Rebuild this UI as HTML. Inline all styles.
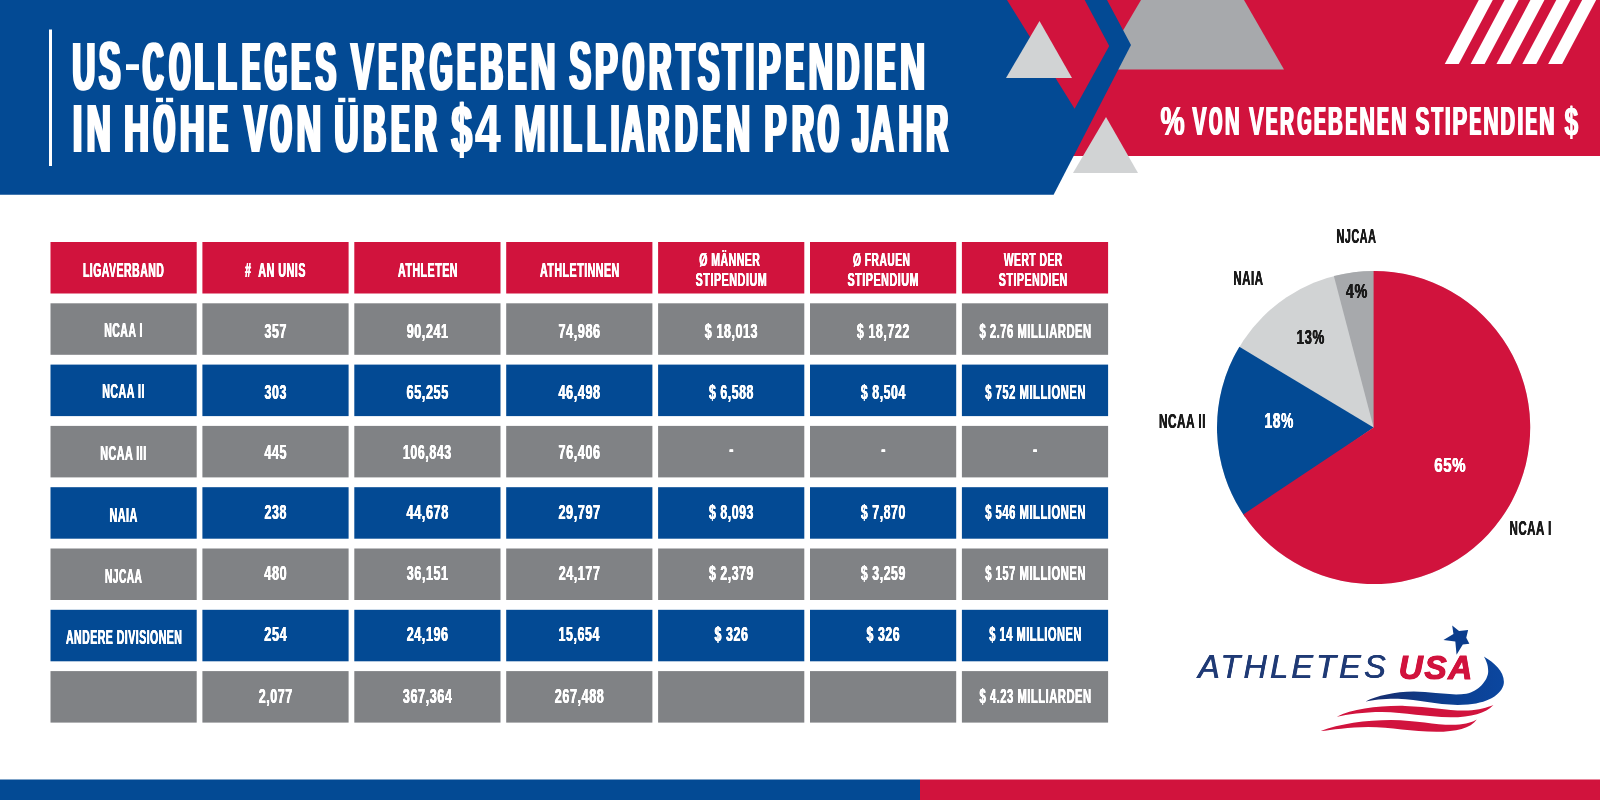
<!DOCTYPE html>
<html><head><meta charset="utf-8"><title>US-Colleges Sportstipendien</title>
<style>
html,body{margin:0;padding:0;background:#fff;}
body{width:1600px;height:800px;position:relative;overflow:hidden;font-family:"Liberation Sans",sans-serif;}
svg{position:absolute;left:0;top:0;}
#txt{position:absolute;left:0;top:0;width:1600px;height:800px;will-change:transform;}
.t{position:absolute;left:0;top:0;line-height:1;white-space:pre;transform-origin:0 0;font-weight:bold;font-family:"Liberation Sans",sans-serif;}
</style></head><body>
<svg width="1600" height="800" viewBox="0 0 1600 800">
<rect x="1000" y="0" width="600" height="156" fill="#d1133d"/>
<polygon points="1141,0 1244,0 1284,69.5 1100,69.5" fill="#a7a9ac"/>
<polygon points="0,0 1107,0 1131,45 1053.6,194.8 0,194.8" fill="#034a94"/>
<polygon points="1007,0 1084.7,0 1109.2,46 1074.6,108.8" fill="#d1133d"/>
<polygon points="1039.5,21 1072,78 1006,78" fill="#d1d3d4"/>
<polygon points="1106,117 1138,173 1073,173" fill="#d1d3d4"/>
<rect x="49" y="29.5" width="3" height="136.5" fill="#fff"/>
<polygon points="1444.75,64 1458.75,64 1492.75,0 1478.75,0" fill="#fff"/>
<polygon points="1470.6,64 1484.6,64 1518.6,0 1504.6,0" fill="#fff"/>
<polygon points="1496.45,64 1510.45,64 1544.45,0 1530.45,0" fill="#fff"/>
<polygon points="1522.3,64 1536.3,64 1570.3,0 1556.3,0" fill="#fff"/>
<polygon points="1548.15,64 1562.15,64 1596.15,0 1582.15,0" fill="#fff"/>
<rect x="0" y="779.5" width="920" height="21" fill="#034a94"/><rect x="920" y="779.5" width="680" height="21" fill="#d1133d"/>
<rect x="50.50" y="242.00" width="146.2" height="51.5" fill="#d1133d"/>
<rect x="202.40" y="242.00" width="146.2" height="51.5" fill="#d1133d"/>
<rect x="354.30" y="242.00" width="146.2" height="51.5" fill="#d1133d"/>
<rect x="506.20" y="242.00" width="146.2" height="51.5" fill="#d1133d"/>
<rect x="658.10" y="242.00" width="146.2" height="51.5" fill="#d1133d"/>
<rect x="810.00" y="242.00" width="146.2" height="51.5" fill="#d1133d"/>
<rect x="961.90" y="242.00" width="146.2" height="51.5" fill="#d1133d"/>
<rect x="50.50" y="303.30" width="146.2" height="51.5" fill="#808285"/>
<rect x="202.40" y="303.30" width="146.2" height="51.5" fill="#808285"/>
<rect x="354.30" y="303.30" width="146.2" height="51.5" fill="#808285"/>
<rect x="506.20" y="303.30" width="146.2" height="51.5" fill="#808285"/>
<rect x="658.10" y="303.30" width="146.2" height="51.5" fill="#808285"/>
<rect x="810.00" y="303.30" width="146.2" height="51.5" fill="#808285"/>
<rect x="961.90" y="303.30" width="146.2" height="51.5" fill="#808285"/>
<rect x="50.50" y="364.60" width="146.2" height="51.5" fill="#034a94"/>
<rect x="202.40" y="364.60" width="146.2" height="51.5" fill="#034a94"/>
<rect x="354.30" y="364.60" width="146.2" height="51.5" fill="#034a94"/>
<rect x="506.20" y="364.60" width="146.2" height="51.5" fill="#034a94"/>
<rect x="658.10" y="364.60" width="146.2" height="51.5" fill="#034a94"/>
<rect x="810.00" y="364.60" width="146.2" height="51.5" fill="#034a94"/>
<rect x="961.90" y="364.60" width="146.2" height="51.5" fill="#034a94"/>
<rect x="50.50" y="425.90" width="146.2" height="51.5" fill="#808285"/>
<rect x="202.40" y="425.90" width="146.2" height="51.5" fill="#808285"/>
<rect x="354.30" y="425.90" width="146.2" height="51.5" fill="#808285"/>
<rect x="506.20" y="425.90" width="146.2" height="51.5" fill="#808285"/>
<rect x="658.10" y="425.90" width="146.2" height="51.5" fill="#808285"/>
<rect x="810.00" y="425.90" width="146.2" height="51.5" fill="#808285"/>
<rect x="961.90" y="425.90" width="146.2" height="51.5" fill="#808285"/>
<rect x="50.50" y="487.20" width="146.2" height="51.5" fill="#034a94"/>
<rect x="202.40" y="487.20" width="146.2" height="51.5" fill="#034a94"/>
<rect x="354.30" y="487.20" width="146.2" height="51.5" fill="#034a94"/>
<rect x="506.20" y="487.20" width="146.2" height="51.5" fill="#034a94"/>
<rect x="658.10" y="487.20" width="146.2" height="51.5" fill="#034a94"/>
<rect x="810.00" y="487.20" width="146.2" height="51.5" fill="#034a94"/>
<rect x="961.90" y="487.20" width="146.2" height="51.5" fill="#034a94"/>
<rect x="50.50" y="548.50" width="146.2" height="51.5" fill="#808285"/>
<rect x="202.40" y="548.50" width="146.2" height="51.5" fill="#808285"/>
<rect x="354.30" y="548.50" width="146.2" height="51.5" fill="#808285"/>
<rect x="506.20" y="548.50" width="146.2" height="51.5" fill="#808285"/>
<rect x="658.10" y="548.50" width="146.2" height="51.5" fill="#808285"/>
<rect x="810.00" y="548.50" width="146.2" height="51.5" fill="#808285"/>
<rect x="961.90" y="548.50" width="146.2" height="51.5" fill="#808285"/>
<rect x="50.50" y="609.80" width="146.2" height="51.5" fill="#034a94"/>
<rect x="202.40" y="609.80" width="146.2" height="51.5" fill="#034a94"/>
<rect x="354.30" y="609.80" width="146.2" height="51.5" fill="#034a94"/>
<rect x="506.20" y="609.80" width="146.2" height="51.5" fill="#034a94"/>
<rect x="658.10" y="609.80" width="146.2" height="51.5" fill="#034a94"/>
<rect x="810.00" y="609.80" width="146.2" height="51.5" fill="#034a94"/>
<rect x="961.90" y="609.80" width="146.2" height="51.5" fill="#034a94"/>
<rect x="50.50" y="671.10" width="146.2" height="51.5" fill="#808285"/>
<rect x="202.40" y="671.10" width="146.2" height="51.5" fill="#808285"/>
<rect x="354.30" y="671.10" width="146.2" height="51.5" fill="#808285"/>
<rect x="506.20" y="671.10" width="146.2" height="51.5" fill="#808285"/>
<rect x="658.10" y="671.10" width="146.2" height="51.5" fill="#808285"/>
<rect x="810.00" y="671.10" width="146.2" height="51.5" fill="#808285"/>
<rect x="961.90" y="671.10" width="146.2" height="51.5" fill="#808285"/>
<circle cx="1373.6" cy="427.5" r="156.6" fill="#d1d3d4"/>
<path d="M1373.6,427.5 L1333.86,276.03 A156.6,156.6 0 0 1 1377.70,270.95 Z" fill="#a7a9ac"/>
<path d="M1373.6,427.5 L1245.32,517.32 A156.6,156.6 0 0 1 1239.37,346.85 Z" fill="#034a94"/>
<path d="M1373.6,427.5 L1373.60,270.90 A156.6,156.6 0 1 1 1243.32,514.39 Z" fill="#d1133d"/>
<defs><linearGradient id="sw" gradientUnits="userSpaceOnUse" x1="1365" y1="0" x2="1505" y2="0"><stop offset="0" stop-color="#182c6c"/><stop offset="0.6" stop-color="#0c3f90"/><stop offset="1" stop-color="#0b47a0"/></linearGradient></defs>
<path d="M 1483.8,656.4 C 1494.3,662.5 1503.9,671.3 1503.9,681.8 C 1503.9,692.3 1490.8,702.8 1468.1,704.5 C 1440.0,706.6 1422.5,699.6 1398.0,698.8 C 1384.0,698.6 1373.5,700.0 1365.6,701.4 C 1377.0,695.8 1394.5,691.9 1413.8,691.6 C 1433.0,691.6 1450.5,696.1 1466.3,693.7 C 1478.6,691.6 1488.2,680.0 1488.2,671.3 C 1488.2,664.3 1485.9,659.9 1483.8,656.4 Z" fill="url(#sw)"/>
<path d="M 1336.8,716.8 C 1352.5,708.9 1378.8,705.4 1405.0,705.9 C 1431.3,706.6 1448.8,711.2 1468.1,710.5 C 1478.6,709.8 1487.3,707.3 1493.4,704.9 C 1485.6,713.3 1471.6,717.1 1450.5,717.3 C 1426.0,717.1 1405.0,712.4 1382.3,712.1 C 1363.0,712.1 1347.3,714.7 1336.8,716.8 Z" fill="#d1133d"/>
<path d="M 1320.7,731.1 C 1338.5,723.8 1366.5,719.9 1391.0,719.9 C 1419.0,720.3 1436.5,725.5 1455.8,724.8 C 1466.3,724.1 1473.3,721.7 1476.8,719.4 C 1470.7,728.2 1455.8,731.7 1436.5,731.7 C 1412.0,731.7 1391.0,726.9 1368.3,726.9 C 1349.0,726.9 1331.5,729.9 1320.7,731.1 Z" fill="#d1133d"/>
<polygon points="1452.19,625.62 1459.06,630.94 1468.12,629.88 1466.25,637.81 1469.38,643.75 1462.81,644.38 1456.56,654.69 1455.31,641.56 1443.44,640 1453.44,634.06" fill="#0b3c8c"/>
<rect x="155.95" y="97.75" width="7.1" height="4.4" fill="#fff"/><rect x="166.05" y="97.75" width="7.1" height="4.4" fill="#fff"/>
<rect x="338.25" y="97.75" width="7.1" height="4.4" fill="#fff"/><rect x="348.35" y="97.75" width="7.1" height="4.4" fill="#fff"/>
</svg>
<div id="txt">
<span class="w"><span class="t" style="font-size:68.12px;transform:translate(72.50px,31.94px) scale(0.4590,1);color:#fff;text-shadow:3.46px 0 0 #fff,-3.46px 0 0 #fff;">U</span>
<span class="t" style="font-size:68.12px;transform:translate(99.08px,31.34px) scale(0.4668,1);color:#fff;text-shadow:3.31px 0 0 #fff,-3.31px 0 0 #fff;">S</span>
<span class="t" style="font-size:68.12px;transform:translate(123.90px,39.26px) scale(0.7500,0.7);color:#fff;">-</span>
<span class="t" style="font-size:68.12px;transform:translate(143.00px,31.94px) scale(0.4120,1);color:#fff;text-shadow:4.42px 0 0 #fff,-4.42px 0 0 #fff;">C</span>
<span class="t" style="font-size:68.12px;transform:translate(169.57px,31.94px) scale(0.3880,1);color:#fff;text-shadow:5.01px 0 0 #fff,-5.01px 0 0 #fff;">O</span>
<span class="t" style="font-size:68.12px;transform:translate(194.77px,31.94px) scale(0.4456,1);color:#fff;text-shadow:3.71px 0 0 #fff,-3.71px 0 0 #fff;">L</span>
<span class="t" style="font-size:68.12px;transform:translate(217.77px,31.94px) scale(0.4456,1);color:#fff;text-shadow:3.71px 0 0 #fff,-3.71px 0 0 #fff;">L</span>
<span class="t" style="font-size:68.12px;transform:translate(242.49px,31.94px) scale(0.3769,1);color:#fff;text-shadow:5.31px 0 0 #fff,-5.31px 0 0 #fff;">E</span>
<span class="t" style="font-size:68.12px;transform:translate(265.00px,31.94px) scale(0.4117,1);color:#fff;text-shadow:4.43px 0 0 #fff,-4.43px 0 0 #fff;">G</span>
<span class="t" style="font-size:68.12px;transform:translate(291.55px,31.94px) scale(0.4150,1);color:#fff;text-shadow:4.36px 0 0 #fff,-4.36px 0 0 #fff;">E</span>
<span class="t" style="font-size:68.12px;transform:translate(315.59px,31.94px) scale(0.4480,1);color:#fff;text-shadow:3.66px 0 0 #fff,-3.66px 0 0 #fff;">S</span></span> 
<span class="w"><span class="t" style="font-size:68.12px;transform:translate(350.77px,31.94px) scale(0.5012,1);color:#fff;text-shadow:2.74px 0 0 #fff,-2.74px 0 0 #fff;">V</span>
<span class="t" style="font-size:68.12px;transform:translate(378.86px,31.94px) scale(0.3804,1);color:#fff;text-shadow:5.21px 0 0 #fff,-5.21px 0 0 #fff;">E</span>
<span class="t" style="font-size:68.12px;transform:translate(401.64px,31.94px) scale(0.4599,1);color:#fff;text-shadow:3.44px 0 0 #fff,-3.44px 0 0 #fff;">R</span>
<span class="t" style="font-size:68.12px;transform:translate(430.02px,31.94px) scale(0.4226,1);color:#fff;text-shadow:4.19px 0 0 #fff,-4.19px 0 0 #fff;">G</span>
<span class="t" style="font-size:68.12px;transform:translate(457.69px,31.94px) scale(0.3769,1);color:#fff;text-shadow:5.31px 0 0 #fff,-5.31px 0 0 #fff;">E</span>
<span class="t" style="font-size:68.12px;transform:translate(480.35px,31.94px) scale(0.4587,1);color:#fff;text-shadow:3.46px 0 0 #fff,-3.46px 0 0 #fff;">B</span>
<span class="t" style="font-size:68.12px;transform:translate(508.17px,31.94px) scale(0.3908,1);color:#fff;text-shadow:4.94px 0 0 #fff,-4.94px 0 0 #fff;">E</span>
<span class="t" style="font-size:68.12px;transform:translate(530.57px,31.94px) scale(0.5062,1);color:#fff;text-shadow:2.66px 0 0 #fff,-2.66px 0 0 #fff;">N</span></span> 
<span class="w"><span class="t" style="font-size:68.12px;transform:translate(569.44px,31.34px) scale(0.4731,1);color:#fff;text-shadow:3.20px 0 0 #fff,-3.20px 0 0 #fff;">S</span>
<span class="t" style="font-size:68.12px;transform:translate(594.94px,31.94px) scale(0.5047,1);color:#fff;text-shadow:2.69px 0 0 #fff,-2.69px 0 0 #fff;">P</span>
<span class="t" style="font-size:68.12px;transform:translate(623.08px,31.94px) scale(0.3867,1);color:#fff;text-shadow:5.04px 0 0 #fff,-5.04px 0 0 #fff;">O</span>
<span class="t" style="font-size:68.12px;transform:translate(649.22px,31.94px) scale(0.4511,1);color:#fff;text-shadow:3.60px 0 0 #fff,-3.60px 0 0 #fff;">R</span>
<span class="t" style="font-size:68.12px;transform:translate(676.47px,31.94px) scale(0.4318,1);color:#fff;text-shadow:3.99px 0 0 #fff,-3.99px 0 0 #fff;">T</span>
<span class="t" style="font-size:68.12px;transform:translate(697.95px,31.94px) scale(0.4715,1);color:#fff;text-shadow:3.23px 0 0 #fff,-3.23px 0 0 #fff;">S</span>
<span class="t" style="font-size:68.12px;transform:translate(722.59px,31.94px) scale(0.4383,1);color:#fff;text-shadow:3.86px 0 0 #fff,-3.86px 0 0 #fff;">T</span>
<span class="t" style="font-size:68.12px;transform:translate(744.35px,31.94px) scale(0.6000,1);color:#fff;text-shadow:1.25px 0 0 #fff,-1.25px 0 0 #fff;">I</span>
<span class="t" style="font-size:68.12px;transform:translate(758.21px,31.94px) scale(0.4913,1);color:#fff;text-shadow:2.90px 0 0 #fff,-2.90px 0 0 #fff;">P</span>
<span class="t" style="font-size:68.12px;transform:translate(786.35px,31.94px) scale(0.3700,1);color:#fff;text-shadow:5.50px 0 0 #fff,-5.50px 0 0 #fff;">E</span>
<span class="t" style="font-size:68.12px;transform:translate(808.63px,31.94px) scale(0.4949,1);color:#fff;text-shadow:2.84px 0 0 #fff,-2.84px 0 0 #fff;">N</span>
<span class="t" style="font-size:68.12px;transform:translate(836.55px,31.94px) scale(0.4587,1);color:#fff;text-shadow:3.46px 0 0 #fff,-3.46px 0 0 #fff;">D</span>
<span class="t" style="font-size:68.12px;transform:translate(862.62px,31.94px) scale(0.6000,1);color:#fff;text-shadow:1.04px 0 0 #fff,-1.04px 0 0 #fff;">I</span>
<span class="t" style="font-size:68.12px;transform:translate(877.30px,31.94px) scale(0.3873,1);color:#fff;text-shadow:5.03px 0 0 #fff,-5.03px 0 0 #fff;">E</span>
<span class="t" style="font-size:68.12px;transform:translate(900.21px,31.94px) scale(0.5078,1);color:#fff;text-shadow:2.64px 0 0 #fff,-2.64px 0 0 #fff;">N</span></span> 
<span class="w"><span class="t" style="font-size:68.12px;transform:translate(71.95px,94.44px) scale(0.6000,1);color:#fff;text-shadow:1.42px 0 0 #fff,-1.42px 0 0 #fff;">I</span>
<span class="t" style="font-size:68.12px;transform:translate(86.66px,94.44px) scale(0.4916,1);color:#fff;text-shadow:2.89px 0 0 #fff,-2.89px 0 0 #fff;">N</span></span> 
<span class="w"><span class="t" style="font-size:68.12px;transform:translate(124.04px,94.44px) scale(0.5046,1);color:#fff;text-shadow:2.69px 0 0 #fff,-2.69px 0 0 #fff;">H</span>
<span class="t" style="font-size:68.12px;transform:translate(153.93px,94.44px) scale(0.3931,1);color:#fff;clip-path:inset(9.5px -20px -20px -20px);text-shadow:4.88px 0 0 #fff,-4.88px 0 0 #fff;">Ö</span>
<span class="t" style="font-size:68.12px;transform:translate(180.00px,94.44px) scale(0.4981,1);color:#fff;text-shadow:2.79px 0 0 #fff,-2.79px 0 0 #fff;">H</span>
<span class="t" style="font-size:68.12px;transform:translate(209.47px,94.44px) scale(0.3908,1);color:#fff;text-shadow:4.94px 0 0 #fff,-4.94px 0 0 #fff;">E</span></span> 
<span class="w"><span class="t" style="font-size:68.12px;transform:translate(244.17px,94.44px) scale(0.5012,1);color:#fff;text-shadow:2.74px 0 0 #fff,-2.74px 0 0 #fff;">V</span>
<span class="t" style="font-size:68.12px;transform:translate(270.77px,94.44px) scale(0.3880,1);color:#fff;text-shadow:5.01px 0 0 #fff,-5.01px 0 0 #fff;">O</span>
<span class="t" style="font-size:68.12px;transform:translate(296.60px,94.44px) scale(0.4981,1);color:#fff;text-shadow:2.79px 0 0 #fff,-2.79px 0 0 #fff;">N</span></span> 
<span class="w"><span class="t" style="font-size:68.12px;transform:translate(334.51px,94.44px) scale(0.4856,1);color:#fff;clip-path:inset(9.5px -20px -20px -20px);text-shadow:2.99px 0 0 #fff,-2.99px 0 0 #fff;">Ü</span>
<span class="t" style="font-size:68.12px;transform:translate(363.20px,94.44px) scale(0.4648,1);color:#fff;text-shadow:3.35px 0 0 #fff,-3.35px 0 0 #fff;">B</span>
<span class="t" style="font-size:68.12px;transform:translate(391.73px,94.44px) scale(0.3787,1);color:#fff;text-shadow:5.26px 0 0 #fff,-5.26px 0 0 #fff;">E</span>
<span class="t" style="font-size:68.12px;transform:translate(414.54px,94.44px) scale(0.4496,1);color:#fff;text-shadow:3.63px 0 0 #fff,-3.63px 0 0 #fff;">R</span></span> 
<span class="w"><span class="t" style="font-size:68.12px;transform:translate(451.45px,95.04px) scale(0.5461,1);color:#fff;text-shadow:2.10px 0 0 #fff,-2.10px 0 0 #fff;">$</span>
<span class="t" style="font-size:68.12px;transform:translate(475.14px,94.44px) scale(0.6631,1);color:#fff;text-shadow:0.84px 0 0 #fff,-0.84px 0 0 #fff;">4</span></span> 
<span class="w"><span class="t" style="font-size:68.12px;transform:translate(513.74px,94.44px) scale(0.5704,1);color:#fff;text-shadow:1.80px 0 0 #fff,-1.80px 0 0 #fff;">M</span>
<span class="t" style="font-size:68.12px;transform:translate(548.53px,94.44px) scale(0.6000,1);color:#fff;text-shadow:1.13px 0 0 #fff,-1.13px 0 0 #fff;">I</span>
<span class="t" style="font-size:68.12px;transform:translate(563.36px,94.44px) scale(0.4360,1);color:#fff;text-shadow:3.90px 0 0 #fff,-3.90px 0 0 #fff;">L</span>
<span class="t" style="font-size:68.12px;transform:translate(587.19px,94.44px) scale(0.4321,1);color:#fff;text-shadow:3.98px 0 0 #fff,-3.98px 0 0 #fff;">L</span>
<span class="t" style="font-size:68.12px;transform:translate(609.45px,94.44px) scale(0.6000,1);color:#fff;text-shadow:1.42px 0 0 #fff,-1.42px 0 0 #fff;">I</span>
<span class="t" style="font-size:68.12px;transform:translate(621.78px,94.44px) scale(0.4496,1);color:#fff;text-shadow:3.63px 0 0 #fff,-3.63px 0 0 #fff;">A</span>
<span class="t" style="font-size:68.12px;transform:translate(647.78px,94.44px) scale(0.4334,1);color:#fff;text-shadow:3.96px 0 0 #fff,-3.96px 0 0 #fff;">R</span>
<span class="t" style="font-size:68.12px;transform:translate(674.70px,94.44px) scale(0.4648,1);color:#fff;text-shadow:3.35px 0 0 #fff,-3.35px 0 0 #fff;">D</span>
<span class="t" style="font-size:68.12px;transform:translate(703.23px,94.44px) scale(0.3787,1);color:#fff;text-shadow:5.26px 0 0 #fff,-5.26px 0 0 #fff;">E</span>
<span class="t" style="font-size:68.12px;transform:translate(726.08px,94.44px) scale(0.4884,1);color:#fff;text-shadow:2.94px 0 0 #fff,-2.94px 0 0 #fff;">N</span></span> 
<span class="w"><span class="t" style="font-size:68.12px;transform:translate(764.55px,94.44px) scale(0.4813,1);color:#fff;text-shadow:3.06px 0 0 #fff,-3.06px 0 0 #fff;">P</span>
<span class="t" style="font-size:68.12px;transform:translate(792.23px,94.44px) scale(0.4393,1);color:#fff;text-shadow:3.84px 0 0 #fff,-3.84px 0 0 #fff;">R</span>
<span class="t" style="font-size:68.12px;transform:translate(818.22px,94.44px) scale(0.3803,1);color:#fff;text-shadow:5.21px 0 0 #fff,-5.21px 0 0 #fff;">O</span></span> 
<span class="w"><span class="t" style="font-size:68.12px;transform:translate(852.84px,94.44px) scale(0.4232,1);color:#fff;text-shadow:4.17px 0 0 #fff,-4.17px 0 0 #fff;">J</span>
<span class="t" style="font-size:68.12px;transform:translate(870.54px,94.44px) scale(0.4740,1);color:#fff;text-shadow:3.19px 0 0 #fff,-3.19px 0 0 #fff;">A</span>
<span class="t" style="font-size:68.12px;transform:translate(898.60px,94.44px) scale(0.4754,1);color:#fff;text-shadow:3.16px 0 0 #fff,-3.16px 0 0 #fff;">H</span>
<span class="t" style="font-size:68.12px;transform:translate(926.43px,94.44px) scale(0.4393,1);color:#fff;text-shadow:3.84px 0 0 #fff,-3.84px 0 0 #fff;">R</span></span> 
<span class="w"><span class="t" style="font-size:40.43px;transform:translate(1160.53px,100.98px) scale(0.6735,1);color:#fff;text-shadow:0.74px 0 0 #fff,-0.74px 0 0 #fff;">%</span></span> 
<span class="w"><span class="t" style="font-size:40.43px;transform:translate(1192.38px,100.98px) scale(0.5250,1);color:#fff;text-shadow:1.20px 0 0 #fff,-1.20px 0 0 #fff;">V</span>
<span class="t" style="font-size:40.43px;transform:translate(1209.09px,100.98px) scale(0.4183,1);color:#fff;text-shadow:2.27px 0 0 #fff,-2.27px 0 0 #fff;">O</span>
<span class="t" style="font-size:40.43px;transform:translate(1224.84px,100.98px) scale(0.5063,1);color:#fff;text-shadow:1.35px 0 0 #fff,-1.35px 0 0 #fff;">N</span></span> 
<span class="w"><span class="t" style="font-size:40.43px;transform:translate(1248.95px,100.98px) scale(0.5510,1);color:#fff;text-shadow:1.00px 0 0 #fff,-1.00px 0 0 #fff;">V</span>
<span class="t" style="font-size:40.43px;transform:translate(1266.02px,100.98px) scale(0.4218,1);color:#fff;text-shadow:2.22px 0 0 #fff,-2.22px 0 0 #fff;">E</span>
<span class="t" style="font-size:40.43px;transform:translate(1280.01px,100.98px) scale(0.4817,1);color:#fff;text-shadow:1.57px 0 0 #fff,-1.57px 0 0 #fff;">R</span>
<span class="t" style="font-size:40.43px;transform:translate(1297.27px,100.98px) scale(0.4599,1);color:#fff;text-shadow:1.79px 0 0 #fff,-1.79px 0 0 #fff;">G</span>
<span class="t" style="font-size:40.43px;transform:translate(1314.20px,100.98px) scale(0.4218,1);color:#fff;text-shadow:2.22px 0 0 #fff,-2.22px 0 0 #fff;">E</span>
<span class="t" style="font-size:40.43px;transform:translate(1328.06px,100.98px) scale(0.5058,1);color:#fff;text-shadow:1.36px 0 0 #fff,-1.36px 0 0 #fff;">B</span>
<span class="t" style="font-size:40.43px;transform:translate(1345.68px,100.98px) scale(0.4218,1);color:#fff;text-shadow:2.22px 0 0 #fff,-2.22px 0 0 #fff;">E</span>
<span class="t" style="font-size:40.43px;transform:translate(1359.41px,100.98px) scale(0.5324,1);color:#fff;text-shadow:1.14px 0 0 #fff,-1.14px 0 0 #fff;">N</span>
<span class="t" style="font-size:40.43px;transform:translate(1377.28px,100.98px) scale(0.4218,1);color:#fff;text-shadow:2.22px 0 0 #fff,-2.22px 0 0 #fff;">E</span>
<span class="t" style="font-size:40.43px;transform:translate(1391.02px,100.98px) scale(0.5324,1);color:#fff;text-shadow:1.14px 0 0 #fff,-1.14px 0 0 #fff;">N</span></span> 
<span class="w"><span class="t" style="font-size:40.43px;transform:translate(1415.31px,100.98px) scale(0.5227,1);color:#fff;text-shadow:1.22px 0 0 #fff,-1.22px 0 0 #fff;">S</span>
<span class="t" style="font-size:40.43px;transform:translate(1431.46px,100.98px) scale(0.4672,1);color:#fff;text-shadow:1.72px 0 0 #fff,-1.72px 0 0 #fff;">T</span>
<span class="t" style="font-size:40.43px;transform:translate(1444.39px,100.98px) scale(0.6000,1);color:#fff;text-shadow:0.70px 0 0 #fff,-0.70px 0 0 #fff;">I</span>
<span class="t" style="font-size:40.43px;transform:translate(1452.42px,100.98px) scale(0.5517,1);color:#fff;text-shadow:1.00px 0 0 #fff,-1.00px 0 0 #fff;">P</span>
<span class="t" style="font-size:40.43px;transform:translate(1469.71px,100.98px) scale(0.4134,1);color:#fff;text-shadow:2.33px 0 0 #fff,-2.33px 0 0 #fff;">E</span>
<span class="t" style="font-size:40.43px;transform:translate(1483.27px,100.98px) scale(0.5227,1);color:#fff;text-shadow:1.22px 0 0 #fff,-1.22px 0 0 #fff;">N</span>
<span class="t" style="font-size:40.43px;transform:translate(1500.49px,100.98px) scale(0.4966,1);color:#fff;text-shadow:1.44px 0 0 #fff,-1.44px 0 0 #fff;">D</span>
<span class="t" style="font-size:40.43px;transform:translate(1516.98px,100.98px) scale(0.6000,1);color:#fff;text-shadow:0.70px 0 0 #fff,-0.70px 0 0 #fff;">I</span>
<span class="t" style="font-size:40.43px;transform:translate(1525.69px,100.98px) scale(0.4134,1);color:#fff;text-shadow:2.33px 0 0 #fff,-2.33px 0 0 #fff;">E</span>
<span class="t" style="font-size:40.43px;transform:translate(1539.25px,100.98px) scale(0.5227,1);color:#fff;text-shadow:1.22px 0 0 #fff,-1.22px 0 0 #fff;">N</span></span> 
<span class="w"><span class="t" style="font-size:40.43px;transform:translate(1564.60px,101.58px) scale(0.6091,1);color:#fff;text-shadow:0.82px 0 0 #fff,-0.82px 0 0 #fff;">$</span></span> 
<span class="t" style="font-size:19.71px;transform:translate(82.91px,260.85px) scale(0.5329,1);color:#fff;letter-spacing:0.9px;text-shadow:0.41px 0 0 #fff,-0.41px 0 0 #fff;">LIGAVERBAND</span>
<span class="t" style="font-size:19.71px;transform:translate(245.09px,260.85px) scale(0.5488,1);color:#fff;letter-spacing:0.9px;text-shadow:0.40px 0 0 #fff,-0.40px 0 0 #fff;">#  AN UNIS</span>
<span class="t" style="font-size:19.71px;transform:translate(398.02px,260.85px) scale(0.5410,1);color:#fff;letter-spacing:0.9px;text-shadow:0.41px 0 0 #fff,-0.41px 0 0 #fff;">ATHLETEN</span>
<span class="t" style="font-size:19.71px;transform:translate(539.97px,260.85px) scale(0.5417,1);color:#fff;letter-spacing:0.9px;text-shadow:0.41px 0 0 #fff,-0.41px 0 0 #fff;">ATHLETINNEN</span>
<span class="t" style="font-size:19.13px;transform:translate(699.22px,250.04px) scale(0.5497,1);color:#fff;letter-spacing:0.9px;text-shadow:0.40px 0 0 #fff,-0.40px 0 0 #fff;">Ø MÄNNER</span>
<span class="t" style="font-size:19.13px;transform:translate(695.62px,269.74px) scale(0.5643,1);color:#fff;letter-spacing:0.9px;text-shadow:0.39px 0 0 #fff,-0.39px 0 0 #fff;">STIPENDIUM</span>
<span class="t" style="font-size:19.13px;transform:translate(853.07px,250.04px) scale(0.5362,1);color:#fff;letter-spacing:0.9px;text-shadow:0.41px 0 0 #fff,-0.41px 0 0 #fff;">Ø FRAUEN</span>
<span class="t" style="font-size:19.13px;transform:translate(847.42px,269.74px) scale(0.5643,1);color:#fff;letter-spacing:0.9px;text-shadow:0.39px 0 0 #fff,-0.39px 0 0 #fff;">STIPENDIUM</span>
<span class="t" style="font-size:19.13px;transform:translate(1003.87px,250.04px) scale(0.5392,1);color:#fff;letter-spacing:0.9px;text-shadow:0.41px 0 0 #fff,-0.41px 0 0 #fff;">WERT DER</span>
<span class="t" style="font-size:19.13px;transform:translate(998.82px,269.74px) scale(0.5572,1);color:#fff;letter-spacing:0.9px;text-shadow:0.39px 0 0 #fff,-0.39px 0 0 #fff;">STIPENDIEN</span>
<span class="t" style="font-size:19.86px;transform:translate(104.19px,320.87px) scale(0.5290,1);color:#fff;letter-spacing:0.9px;text-shadow:0.42px 0 0 #fff,-0.42px 0 0 #fff;">NCAA I</span>
<span class="t" style="font-size:19.86px;transform:translate(102.18px,382.07px) scale(0.5367,1);color:#fff;letter-spacing:0.9px;text-shadow:0.41px 0 0 #fff,-0.41px 0 0 #fff;">NCAA II</span>
<span class="t" style="font-size:19.86px;transform:translate(100.33px,443.97px) scale(0.5398,1);color:#fff;letter-spacing:0.9px;text-shadow:0.41px 0 0 #fff,-0.41px 0 0 #fff;">NCAA III</span>
<span class="t" style="font-size:19.86px;transform:translate(109.48px,505.77px) scale(0.5443,1);color:#fff;letter-spacing:0.9px;text-shadow:0.40px 0 0 #fff,-0.40px 0 0 #fff;">NAIA</span>
<span class="t" style="font-size:19.86px;transform:translate(105.01px,567.07px) scale(0.5117,1);color:#fff;letter-spacing:0.9px;text-shadow:0.43px 0 0 #fff,-0.43px 0 0 #fff;">NJCAA</span>
<span class="t" style="font-size:19.86px;transform:translate(65.97px,627.97px) scale(0.5307,1);color:#fff;letter-spacing:0.9px;text-shadow:0.41px 0 0 #fff,-0.41px 0 0 #fff;">ANDERE DIVISIONEN</span>
<span class="t" style="font-size:19.71px;transform:translate(264.57px,321.94px) scale(0.6300,1);color:#fff;letter-spacing:0.9px;text-shadow:0.35px 0 0 #fff,-0.35px 0 0 #fff;">357</span>
<span class="t" style="font-size:19.71px;transform:translate(264.57px,382.94px) scale(0.6300,1);color:#fff;letter-spacing:0.9px;text-shadow:0.35px 0 0 #fff,-0.35px 0 0 #fff;">303</span>
<span class="t" style="font-size:19.71px;transform:translate(264.42px,442.75px) scale(0.6386,1);color:#fff;letter-spacing:0.9px;text-shadow:0.34px 0 0 #fff,-0.34px 0 0 #fff;">445</span>
<span class="t" style="font-size:19.71px;transform:translate(264.57px,502.54px) scale(0.6300,1);color:#fff;letter-spacing:0.9px;text-shadow:0.35px 0 0 #fff,-0.35px 0 0 #fff;">238</span>
<span class="t" style="font-size:19.71px;transform:translate(264.27px,563.75px) scale(0.6473,1);color:#fff;letter-spacing:0.9px;text-shadow:0.34px 0 0 #fff,-0.34px 0 0 #fff;">480</span>
<span class="t" style="font-size:19.71px;transform:translate(264.27px,624.95px) scale(0.6473,1);color:#fff;letter-spacing:0.9px;text-shadow:0.34px 0 0 #fff,-0.34px 0 0 #fff;">254</span>
<span class="t" style="font-size:19.71px;transform:translate(258.77px,686.54px) scale(0.6323,1);color:#fff;letter-spacing:0.9px;text-shadow:0.35px 0 0 #fff,-0.35px 0 0 #fff;">2,077</span>
<span class="t" style="font-size:19.71px;transform:translate(406.67px,321.94px) scale(0.6401,1);color:#fff;letter-spacing:0.9px;text-shadow:0.34px 0 0 #fff,-0.34px 0 0 #fff;">90,241</span>
<span class="t" style="font-size:19.71px;transform:translate(406.52px,382.94px) scale(0.6448,1);color:#fff;letter-spacing:0.9px;text-shadow:0.34px 0 0 #fff,-0.34px 0 0 #fff;">65,255</span>
<span class="t" style="font-size:19.71px;transform:translate(402.89px,442.75px) scale(0.6316,1);color:#fff;letter-spacing:0.9px;text-shadow:0.35px 0 0 #fff,-0.35px 0 0 #fff;">106,843</span>
<span class="t" style="font-size:19.71px;transform:translate(406.52px,502.54px) scale(0.6448,1);color:#fff;letter-spacing:0.9px;text-shadow:0.34px 0 0 #fff,-0.34px 0 0 #fff;">44,678</span>
<span class="t" style="font-size:19.71px;transform:translate(406.82px,563.75px) scale(0.6355,1);color:#fff;letter-spacing:0.9px;text-shadow:0.35px 0 0 #fff,-0.35px 0 0 #fff;">36,151</span>
<span class="t" style="font-size:19.71px;transform:translate(406.67px,624.95px) scale(0.6401,1);color:#fff;letter-spacing:0.9px;text-shadow:0.34px 0 0 #fff,-0.34px 0 0 #fff;">24,196</span>
<span class="t" style="font-size:19.71px;transform:translate(402.87px,686.54px) scale(0.6403,1);color:#fff;letter-spacing:0.9px;text-shadow:0.34px 0 0 #fff,-0.34px 0 0 #fff;">367,364</span>
<span class="t" style="font-size:19.71px;transform:translate(558.42px,321.94px) scale(0.6448,1);color:#fff;letter-spacing:0.9px;text-shadow:0.34px 0 0 #fff,-0.34px 0 0 #fff;">74,986</span>
<span class="t" style="font-size:19.71px;transform:translate(558.42px,382.94px) scale(0.6448,1);color:#fff;letter-spacing:0.9px;text-shadow:0.34px 0 0 #fff,-0.34px 0 0 #fff;">46,498</span>
<span class="t" style="font-size:19.71px;transform:translate(558.57px,442.75px) scale(0.6401,1);color:#fff;letter-spacing:0.9px;text-shadow:0.34px 0 0 #fff,-0.34px 0 0 #fff;">76,406</span>
<span class="t" style="font-size:19.71px;transform:translate(558.42px,502.54px) scale(0.6448,1);color:#fff;letter-spacing:0.9px;text-shadow:0.34px 0 0 #fff,-0.34px 0 0 #fff;">29,797</span>
<span class="t" style="font-size:19.71px;transform:translate(558.72px,563.75px) scale(0.6355,1);color:#fff;letter-spacing:0.9px;text-shadow:0.35px 0 0 #fff,-0.35px 0 0 #fff;">24,177</span>
<span class="t" style="font-size:19.71px;transform:translate(558.59px,624.95px) scale(0.6298,1);color:#fff;letter-spacing:0.9px;text-shadow:0.35px 0 0 #fff,-0.35px 0 0 #fff;">15,654</span>
<span class="t" style="font-size:19.71px;transform:translate(554.77px,686.54px) scale(0.6403,1);color:#fff;letter-spacing:0.9px;text-shadow:0.34px 0 0 #fff,-0.34px 0 0 #fff;">267,488</span>
<span class="t" style="font-size:19.71px;transform:translate(704.82px,321.94px) scale(0.6358,1);color:#fff;letter-spacing:0.9px;text-shadow:0.35px 0 0 #fff,-0.35px 0 0 #fff;">$ 18,013</span>
<span class="t" style="font-size:19.71px;transform:translate(708.97px,382.94px) scale(0.6250,1);color:#fff;letter-spacing:0.9px;text-shadow:0.35px 0 0 #fff,-0.35px 0 0 #fff;">$ 6,588</span>
<span class="t" style="font-size:19.71px;transform:translate(729.27px,439.75px) scale(0.6433,1);color:#fff;letter-spacing:0.9px;text-shadow:0.34px 0 0 #fff,-0.34px 0 0 #fff;">-</span>
<span class="t" style="font-size:19.71px;transform:translate(708.97px,502.54px) scale(0.6250,1);color:#fff;letter-spacing:0.9px;text-shadow:0.35px 0 0 #fff,-0.35px 0 0 #fff;">$ 8,093</span>
<span class="t" style="font-size:19.71px;transform:translate(708.97px,563.75px) scale(0.6250,1);color:#fff;letter-spacing:0.9px;text-shadow:0.35px 0 0 #fff,-0.35px 0 0 #fff;">$ 2,379</span>
<span class="t" style="font-size:19.71px;transform:translate(714.47px,624.95px) scale(0.6323,1);color:#fff;letter-spacing:0.9px;text-shadow:0.35px 0 0 #fff,-0.35px 0 0 #fff;">$ 326</span>
<span class="t" style="font-size:19.71px;transform:translate(856.87px,321.94px) scale(0.6322,1);color:#fff;letter-spacing:0.9px;text-shadow:0.35px 0 0 #fff,-0.35px 0 0 #fff;">$ 18,722</span>
<span class="t" style="font-size:19.71px;transform:translate(860.87px,382.94px) scale(0.6250,1);color:#fff;letter-spacing:0.9px;text-shadow:0.35px 0 0 #fff,-0.35px 0 0 #fff;">$ 8,504</span>
<span class="t" style="font-size:19.71px;transform:translate(881.17px,439.75px) scale(0.6433,1);color:#fff;letter-spacing:0.9px;text-shadow:0.34px 0 0 #fff,-0.34px 0 0 #fff;">-</span>
<span class="t" style="font-size:19.71px;transform:translate(860.87px,502.54px) scale(0.6250,1);color:#fff;letter-spacing:0.9px;text-shadow:0.35px 0 0 #fff,-0.35px 0 0 #fff;">$ 7,870</span>
<span class="t" style="font-size:19.71px;transform:translate(860.87px,563.75px) scale(0.6250,1);color:#fff;letter-spacing:0.9px;text-shadow:0.35px 0 0 #fff,-0.35px 0 0 #fff;">$ 3,259</span>
<span class="t" style="font-size:19.71px;transform:translate(866.52px,624.95px) scale(0.6266,1);color:#fff;letter-spacing:0.9px;text-shadow:0.35px 0 0 #fff,-0.35px 0 0 #fff;">$ 326</span>
<span class="t" style="font-size:19.71px;transform:translate(979.52px,321.94px) scale(0.5697,1);color:#fff;letter-spacing:0.9px;text-shadow:0.39px 0 0 #fff,-0.39px 0 0 #fff;">$ 2.76 MILLIARDEN</span>
<span class="t" style="font-size:19.71px;transform:translate(985.17px,382.94px) scale(0.5715,1);color:#fff;letter-spacing:0.9px;text-shadow:0.38px 0 0 #fff,-0.38px 0 0 #fff;">$ 752 MILLIONEN</span>
<span class="t" style="font-size:19.71px;transform:translate(1033.07px,439.75px) scale(0.6433,1);color:#fff;letter-spacing:0.9px;text-shadow:0.34px 0 0 #fff,-0.34px 0 0 #fff;">-</span>
<span class="t" style="font-size:19.71px;transform:translate(985.17px,502.54px) scale(0.5715,1);color:#fff;letter-spacing:0.9px;text-shadow:0.38px 0 0 #fff,-0.38px 0 0 #fff;">$ 546 MILLIONEN</span>
<span class="t" style="font-size:19.71px;transform:translate(985.17px,563.75px) scale(0.5715,1);color:#fff;letter-spacing:0.9px;text-shadow:0.38px 0 0 #fff,-0.38px 0 0 #fff;">$ 157 MILLIONEN</span>
<span class="t" style="font-size:19.71px;transform:translate(989.32px,624.95px) scale(0.5621,1);color:#fff;letter-spacing:0.9px;text-shadow:0.39px 0 0 #fff,-0.39px 0 0 #fff;">$ 14 MILLIONEN</span>
<span class="t" style="font-size:19.71px;transform:translate(979.52px,686.54px) scale(0.5697,1);color:#fff;letter-spacing:0.9px;text-shadow:0.39px 0 0 #fff,-0.39px 0 0 #fff;">$ 4.23 MILLIARDEN</span>
<span class="t" style="font-size:20.29px;transform:translate(1336.51px,225.66px) scale(0.5363,1);color:#1a1a1a;letter-spacing:0.9px;text-shadow:0.28px 0 0 #1a1a1a,-0.28px 0 0 #1a1a1a;">NJCAA</span>
<span class="t" style="font-size:20.29px;transform:translate(1233.33px,267.86px) scale(0.5685,1);color:#1a1a1a;letter-spacing:0.9px;text-shadow:0.26px 0 0 #1a1a1a,-0.26px 0 0 #1a1a1a;">NAIA</span>
<span class="t" style="font-size:20.72px;transform:translate(1158.98px,410.54px) scale(0.5683,1);color:#1a1a1a;letter-spacing:0.9px;text-shadow:0.26px 0 0 #1a1a1a,-0.26px 0 0 #1a1a1a;">NCAA II</span>
<span class="t" style="font-size:20.29px;transform:translate(1509.58px,517.86px) scale(0.5666,1);color:#1a1a1a;letter-spacing:0.9px;text-shadow:0.26px 0 0 #1a1a1a,-0.26px 0 0 #1a1a1a;">NCAA I</span>
<span class="t" style="font-size:20.58px;transform:translate(1345.85px,280.56px) scale(0.7003,1);color:#1a1a1a;letter-spacing:0.9px;text-shadow:0.21px 0 0 #1a1a1a,-0.21px 0 0 #1a1a1a;">4%</span>
<span class="t" style="font-size:20.87px;transform:translate(1296.61px,326.67px) scale(0.6357,1);color:#1a1a1a;letter-spacing:0.9px;text-shadow:0.24px 0 0 #1a1a1a,-0.24px 0 0 #1a1a1a;">13%</span>
<span class="t" style="font-size:21.16px;transform:translate(1264.57px,410.02px) scale(0.6533,1);color:#fff;letter-spacing:0.9px;text-shadow:0.34px 0 0 #fff,-0.34px 0 0 #fff;">18%</span>
<span class="t" style="font-size:21.01px;transform:translate(1434.22px,453.89px) scale(0.7147,1);color:#fff;letter-spacing:0.9px;text-shadow:0.31px 0 0 #fff,-0.31px 0 0 #fff;">65%</span>
<span class="t" style="font-size:32.75px;transform:translate(1198.08px,650.92px) scale(0.9915,1);color:#1f3a75;font-weight:normal;font-style:italic;letter-spacing:3.2px;text-shadow:0.35px 0 0 #1f3a75,-0.35px 0 0 #1f3a75;">ATHLETES</span>
<span class="t" style="font-size:33.62px;transform:translate(1398.81px,650.99px) scale(0.9889,1);color:#d1133d;font-style:italic;letter-spacing:1.6px;-webkit-text-stroke:1.1px #d1133d;text-shadow:0.30px 0 0 #d1133d,-0.30px 0 0 #d1133d;">USA</span>
</div>
</body></html>
